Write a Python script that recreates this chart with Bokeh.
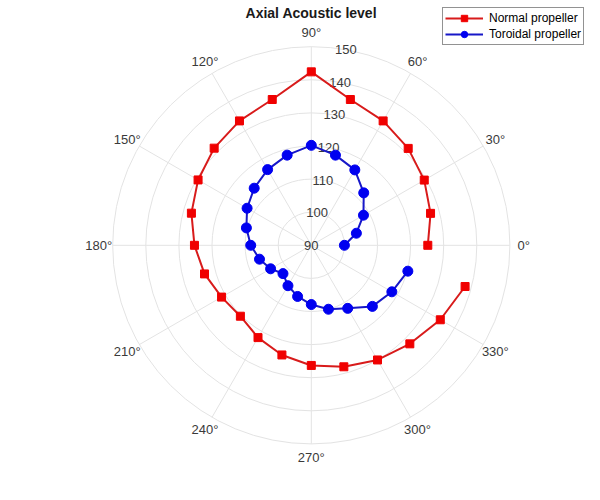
import numpy as np
from bokeh.plotting import figure
from bokeh.models import Range1d, Legend, LegendItem
from bokeh.core.properties import value
from bokeh.embed import file_html
from bokeh.resources import INLINE

# ---- data ----
angles_deg = [0, 15, 30, 45, 60, 75, 90, 105, 120, 135, 150, 165,
              180, 195, 210, 225, 240, 255, 270, 285, 300, 315, 330, 345]
normal_propeller = [125.2, 127.3, 129.4, 131.4, 133.4, 135.6, 142.4, 135.6,
                    133.4, 131.5, 129.5, 127.5, 125.3, 123.4, 121.3, 120.3,
                    122.2, 124.3, 126.3, 128.0, 130.0, 132.1, 135.0, 138.1]
toroidal_propeller = [100.0, 104.1, 108.2, 112.4, 116.3, 118.2, 120.2, 118.2,
                      116.4, 114.4, 112.4, 110.3, 108.3, 106.2, 104.2, 102.1,
                      104.1, 106.0, 107.9, 110.0, 112.0, 116.1, 118.1, 120.2]
r_ticks = [90, 100, 110, 120, 130, 140, 150]
theta_ticks = [0, 30, 60, 90, 120, 150, 180, 210, 240, 270, 300, 330]
theta_labels = ["0°", "30°", "60°", "90°", "120°", "150°", "180°",
                "210°", "240°", "270°", "300°", "330°"]
title_text = "Axial Acoustic level"
series_names = ["Normal propeller", "Toroidal propeller"]

# ---- layout ----
W, H = 584, 484
SCALE = 3.31          # px per unit of r
CX, CY = 310.8, 244.8  # centre in figure px (from top-left)
R0 = r_ticks[0]
RMAX = r_ticks[-1] - R0

p = figure(width=W, height=H, output_backend="svg", toolbar_location=None,
           x_range=Range1d(-CX / SCALE, (W - CX) / SCALE),
           y_range=Range1d(-(H - CY) / SCALE, CY / SCALE),
           min_border=0, min_border_left=0, min_border_right=0,
           min_border_top=0, min_border_bottom=0)
p.axis.visible = False
p.grid.visible = False
p.outline_line_color = None
p.background_fill_color = "white"
p.border_fill_color = "white"

FONT = "Liberation Sans"
GRID = "#e3e3e3"
TXT = "#3a3a3a"

# rings
ring_r = [r - R0 for r in r_ticks[1:]]
p.circle(x=[0] * len(ring_r), y=[0] * len(ring_r), radius=ring_r,
         fill_color=None, line_color=GRID, line_width=1)
# spokes
th = np.deg2rad(theta_ticks)
p.segment(x0=[0] * len(th), y0=[0] * len(th),
          x1=list(RMAX * np.cos(th)), y1=list(RMAX * np.sin(th)),
          line_color=GRID, line_width=1)

# angle labels
RL = 64.2
p.text(x=list(RL * np.cos(th)), y=list(RL * np.sin(th)), text=theta_labels,
       text_align="center", text_baseline="middle",
       text_font=value(FONT), text_font_size="13px", text_color=TXT)

# r tick labels at 80 deg
a80 = np.deg2rad(80)
rr = np.array([r - R0 for r in r_ticks], dtype=float)
p.text(x=list(rr * np.cos(a80)), y=list(rr * np.sin(a80)),
       text=[str(r) for r in r_ticks],
       text_align="center", text_baseline="middle",
       text_font=value(FONT), text_font_size="13px", text_color=TXT)

# series
ang = np.deg2rad(angles_deg)
nr = np.array(normal_propeller) - R0
tr = np.array(toroidal_propeller) - R0
nx, ny = nr * np.cos(ang), nr * np.sin(ang)
tx, ty = tr * np.cos(ang), tr * np.sin(ang)

l1 = p.line(nx, ny, line_color="#d81b1b", line_width=2)
s1 = p.scatter(nx, ny, marker="square", size=8, fill_color="#f00000",
               line_color="#f00000")
l2 = p.line(tx, ty, line_color="#1717c8", line_width=2)
s2 = p.scatter(tx, ty, marker="circle", size=10, fill_color="#0000f0",
               line_color="#0000f0")

# title
p.text(x=[0], y=[(CY - 12.5) / SCALE], text=[title_text],
       text_align="center", text_baseline="middle",
       text_font=value(FONT), text_font_size="14px",
       text_font_style="bold", text_color="#1a1a1a")

legend = Legend(items=[LegendItem(label=series_names[0], renderers=[l1, s1]),
                       LegendItem(label=series_names[1], renderers=[l2, s2])],
                location=(442, H - 45), margin=0, padding=2, spacing=0,
                glyph_width=38, glyph_height=16, label_height=16,
                label_standoff=6,
                label_text_font=FONT, label_text_font_size="12px",
                label_text_color="#000000",
                border_line_color="#262626", border_line_width=1,
                background_fill_color="white", background_fill_alpha=1)
p.add_layout(legend)

open("out.html", "w").write(file_html(p, INLINE))
